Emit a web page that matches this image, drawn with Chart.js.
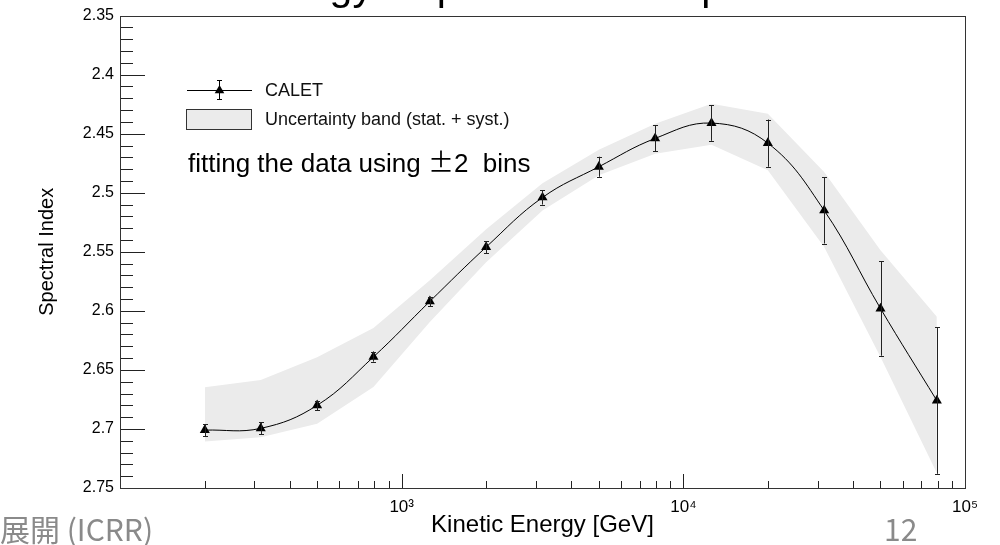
<!DOCTYPE html>
<html>
<head>
<meta charset="utf-8">
<title>Spectral Index vs Kinetic Energy</title>
<script src="https://cdn.jsdelivr.net/npm/chart.js@4.4.1/dist/chart.umd.min.js"></script>
<style>
  html, body { margin: 0; padding: 0; background: #fff; }
  #wrap { position: relative; width: 1000px; height: 545px; }
</style>
</head>
<body>
<div id="wrap"><canvas id="indexChart"></canvas></div>
<script>
// --- values ---
const energy = [200, 316, 501, 794, 1259, 1995, 3162, 5012, 7943, 12589, 19953, 31623, 50119, 79433];
const specIndex = [2.701, 2.6995, 2.680, 2.639, 2.592, 2.546, 2.504, 2.478, 2.454, 2.441, 2.458, 2.515, 2.598, 2.676];
const indexErr = [0.005, 0.005, 0.004, 0.004, 0.004, 0.005, 0.006, 0.0085, 0.011, 0.015, 0.020, 0.028, 0.040, 0.062];
const bandLow = [2.6647, 2.6585, 2.6393, 2.6146, 2.574, 2.531, 2.492, 2.4635, 2.4415, 2.4246, 2.4331, 2.4825, 2.5486, 2.605];
const bandHigh = [2.7107, 2.707, 2.6957, 2.6645, 2.6095, 2.5588, 2.515, 2.4852, 2.4669, 2.4593, 2.481, 2.5459, 2.6391, 2.7374];

// --- axis ticks ---
const xDecades = [100, 1000, 10000, 100000];
const xDecadeLabels = ['', '10³', '10⁴', '10⁵'];
const xMinorSteps = [2, 3, 4, 5, 6, 7, 8, 9];
const yMin = 2.35, yMax = 2.75;
const yLabelStep = 5;   // label every 0.05, minor tick every 0.01

const slideTitle = 'Energy Dependence of Spectral Index';
const legendItems = ['CALET', 'Uncertainty band (stat. + syst.)'];

const FONT = "'Liberation Sans', Arial, Helvetica, sans-serif";

// --- inward ROOT-style ticks, frame and error bars ---
const frameAndErrors = {
  id: 'frameAndErrors',
  afterDatasetsDraw(chart) {
    const { ctx, chartArea: a, scales: { x, y } } = chart;
    ctx.save();
    // error bars
    ctx.strokeStyle = '#222';
    ctx.lineWidth = 1;
    ctx.beginPath();
    energy.forEach((e, i) => {
      const px = Math.round(x.getPixelForValue(e)) + 0.5;
      const top = y.getPixelForValue(specIndex[i] - indexErr[i]);
      const bot = y.getPixelForValue(specIndex[i] + indexErr[i]);
      ctx.moveTo(px, top); ctx.lineTo(px, bot);
      ctx.moveTo(px - 2.5, Math.round(top) + 0.5); ctx.lineTo(px + 2.5, Math.round(top) + 0.5);
      ctx.moveTo(px - 2.5, Math.round(bot) + 0.5); ctx.lineTo(px + 2.5, Math.round(bot) + 0.5);
    });
    ctx.stroke();

    // ticks
    ctx.strokeStyle = '#222';
    ctx.beginPath();
    x.ticks.forEach(t => {
      const px = Math.round(x.getPixelForValue(t.value)) + 0.5;
      const len = xDecades.includes(t.value) ? 14 : 7;
      ctx.moveTo(px, a.bottom); ctx.lineTo(px, a.bottom - len);
    });
    y.ticks.forEach(t => {
      const py = Math.round(y.getPixelForValue(t.value)) + 0.5;
      const major = Math.round(t.value * 100) % yLabelStep === 0;
      ctx.moveTo(a.left, py); ctx.lineTo(a.left + (major ? 25 : 13), py);
    });
    ctx.stroke();

    // frame
    ctx.strokeStyle = '#333';
    ctx.strokeRect(Math.round(a.left) + 0.5, Math.round(a.top) + 0.5,
      Math.round(a.right - a.left), Math.round(a.bottom - a.top));
    ctx.restore();
  }
};

// --- legend, note and slide texts ---
const annotations = {
  id: 'annotations',
  afterDraw(chart) {
    const ctx = chart.ctx;
    ctx.save();
    ctx.textBaseline = 'alphabetic';
    ctx.textAlign = 'left';

    // slide title, only its descenders reach into the picture
    ctx.fillStyle = '#000';
    ctx.font = '41px ' + FONT;
    ctx.fillText(slideTitle, 243, 0);

    // legend: CALET
    ctx.strokeStyle = '#000';
    ctx.lineWidth = 1;
    ctx.beginPath();
    ctx.moveTo(187, 90.5); ctx.lineTo(252, 90.5);
    ctx.moveTo(219.5, 80); ctx.lineTo(219.5, 99);
    ctx.moveTo(217, 80.5); ctx.lineTo(222, 80.5);
    ctx.moveTo(217, 99.5); ctx.lineTo(222, 99.5);
    ctx.stroke();
    ctx.beginPath();
    ctx.moveTo(219.5, 85); ctx.lineTo(224.3, 93.3); ctx.lineTo(214.7, 93.3); ctx.closePath();
    ctx.fillStyle = '#000';
    ctx.fill();

    // legend: band
    ctx.fillStyle = '#ebebeb';
    ctx.fillRect(186, 109, 65, 20);
    ctx.strokeStyle = '#333';
    ctx.strokeRect(186.5, 109.5, 65, 20);

    ctx.fillStyle = '#111';
    ctx.font = '18px ' + FONT;
    ctx.fillText(legendItems[0], 265, 96);
    ctx.fillText(legendItems[1], 265, 125);

    // note
    ctx.fillStyle = '#000';
    let nx = 188;
    ctx.font = '26px ' + FONT;
    ctx.fillText('fitting the data using ', nx, 172);
    nx += ctx.measureText('fitting the data using ').width;
    ctx.font = "26px 'Noto Sans CJK JP', sans-serif";
    ctx.fillText('±', nx, 172);
    nx += ctx.measureText('±').width;
    ctx.font = '26px ' + FONT;
    ctx.fillText('2  bins', nx, 172);

    // slide footer
    ctx.fillStyle = '#8a8a8a';
    ctx.font = "30px 'Noto Sans CJK JP', sans-serif";
    ctx.fillText('展開 (ICRR)', 0, 541);
    ctx.fillText('12', 884, 541);
    ctx.restore();
  }
};

const points = energy.map((e, i) => ({ x: e, y: specIndex[i] }));

new Chart(document.getElementById('indexChart'), {
  type: 'line',
  data: {
    datasets: [
      {
        label: 'CALET',
        data: points,
        showLine: false,
        pointStyle: 'triangle',
        pointRadius: 5.8,
        pointBackgroundColor: '#000',
        pointBorderColor: '#000',
        pointBorderWidth: 0
      },
      {
        label: 'fit',
        data: points,
        borderColor: '#000',
        borderWidth: 1,
        tension: 0.4,
        pointRadius: 0,
        fill: false
      },
      {
        label: 'band low',
        data: energy.map((e, i) => ({ x: e, y: bandLow[i] })),
        borderWidth: 0,
        borderColor: 'rgba(0,0,0,0)',
        pointRadius: 0,
        tension: 0,
        fill: false
      },
      {
        label: 'Uncertainty band (stat. + syst.)',
        data: energy.map((e, i) => ({ x: e, y: bandHigh[i] })),
        borderWidth: 0,
        borderColor: 'rgba(0,0,0,0)',
        backgroundColor: '#ebebeb',
        pointRadius: 0,
        tension: 0,
        fill: '-1'
      }
    ]
  },
  options: {
    responsive: true,
    maintainAspectRatio: false,
    animation: false,
    layout: { padding: { top: 15, right: 35, bottom: 0, left: 0 } },
    plugins: {
      legend: { display: false },
      tooltip: { enabled: false }
    },
    scales: {
      x: {
        type: 'logarithmic',
        min: 100,
        max: 100000,
        afterBuildTicks(scale) {
          const vals = [];
          xDecades.slice(0, -1).forEach(d => {
            vals.push(d);
            xMinorSteps.forEach(m => vals.push(d * m));
          });
          vals.push(xDecades[xDecades.length - 1]);
          scale.ticks = vals.map(v => ({ value: v }));
        },
        afterFit(scale) { scale.height = 57; },
        grid: { display: false, drawTicks: false },
        border: { display: false },
        ticks: {
          autoSkip: false,
          maxRotation: 0,
          padding: 9,
          color: '#000',
          font: { family: FONT, size: 17 },
          callback(value) {
            const i = xDecades.indexOf(value);
            return i >= 0 ? xDecadeLabels[i] : '';
          }
        },
        title: {
          display: true,
          text: 'Kinetic Energy [GeV]',
          color: '#000',
          font: { family: FONT, size: 24 },
          padding: { top: 0, bottom: 5 }
        }
      },
      y: {
        type: 'linear',
        reverse: true,
        min: yMin,
        max: yMax,
        afterBuildTicks(scale) {
          const ticks = [];
          for (let k = Math.round(yMin * 100); k <= Math.round(yMax * 100); k++) {
            ticks.push({ value: k / 100 });
          }
          scale.ticks = ticks;
        },
        afterFit(scale) { scale.width = 120; },
        grid: { display: false, drawTicks: false },
        border: { display: false },
        ticks: {
          autoSkip: false,
          padding: 6,
          color: '#000',
          font: { family: FONT, size: 16 },
          callback(value) {
            return Math.round(value * 100) % yLabelStep === 0 ? String(parseFloat(value.toFixed(2))) : '';
          }
        },
        title: {
          display: true,
          text: 'Spectral Index',
          color: '#000',
          font: { family: FONT, size: 20 },
          padding: { top: 35, bottom: 0 }
        }
      }
    }
  },
  plugins: [frameAndErrors, annotations]
});
</script>
</body>
</html>
